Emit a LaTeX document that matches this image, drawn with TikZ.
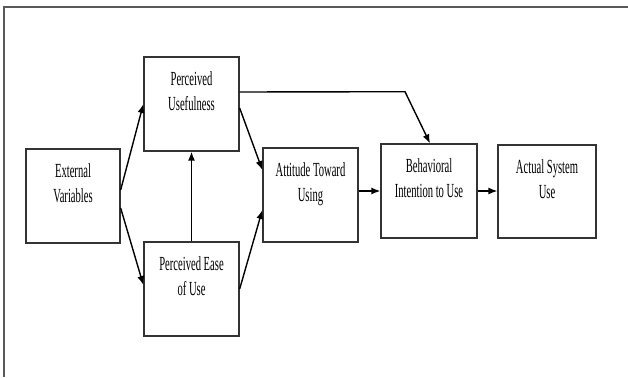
\documentclass[tikz,border=0pt]{standalone}
\usepackage{fontspec}
\setmainfont{Liberation Serif}
\usetikzlibrary{arrows.meta}
\newcommand{\twol}[2]{\scalebox{0.53}[1]{\begin{tabular}{@{}c@{}}#1\\#2\end{tabular}}}
\begin{document}
\begin{tikzpicture}[x=1pt,y=-1pt,
 box/.style={draw=black!80, line width=1.3pt, inner sep=0pt, fill=white},
 lbl/.style={inner sep=0pt, font=\fontsize{20}{25}\selectfont},
 arr/.style={draw=black, line width=1.4pt, -{Latex[length=9pt,width=7pt]}},
 frame/.style={draw=black!65, line width=1.6pt}]
\useasboundingbox (0,0) rectangle (628,377);
\coordinate (ftl) at (4,7);
\coordinate (ftr) at (628,7);
\coordinate (fbl) at (4,377);
\draw[frame] (ftr) -- (ftl) -- (fbl);

\node[box, minimum width=94pt, minimum height=94pt] (ev) at (73,196) {};
\node[box, minimum width=95pt, minimum height=94pt] (pu) at (191.5,104) {};
\node[box, minimum width=95pt, minimum height=94pt] (peou) at (191.5,289) {};
\node[box, minimum width=95pt, minimum height=94pt] (atu) at (310.5,195) {};
\node[box, minimum width=96pt, minimum height=94pt] (bi) at (429,191) {};
\node[box, minimum width=98pt, minimum height=93pt] (asu) at (547,191.5) {};

\node[lbl, below=11pt] (evt) at (ev.north) {\twol{External}{Variables}};
\node[lbl, below=11pt] (put) at (pu.north) {\twol{Perceived}{Usefulness}};
\node[lbl, below=11pt] (peout) at (peou.north) {\twol{Perceived Ease}{of Use}};
\node[lbl, below=11pt] (atut) at (atu.north) {\twol{Attitude Toward}{Using}};
\node[lbl, below=11pt] (bit) at (bi.north) {\twol{Behavioral}{Intention to Use}};
\node[lbl, below=11pt] (asut) at (asu.north) {\twol{Actual System}{Use}};

\coordinate (bend) at (405,91.7);
\draw[arr] ([yshift=6pt]ev.east) -- (pu.west);
\draw[arr] ([yshift=-12pt]ev.east) -- ([yshift=4pt]peou.west);
\draw[arr] (peou.north) -- (pu.south);
\draw[arr] ([yshift=-4pt]pu.east) -- ([yshift=25pt]atu.west);
\draw[arr] (peou.east) -- ([yshift=-15pt]atu.west);
\draw[arr] (atu.east |- bi.west) -- (bi.west);
\draw[arr] (bi.east) -- (asu.west |- bi.east);
\draw[arr] ([yshift=12pt]pu.east) -- (bend) -- ([xshift=1pt]bi.north);
\end{tikzpicture}
\end{document}
